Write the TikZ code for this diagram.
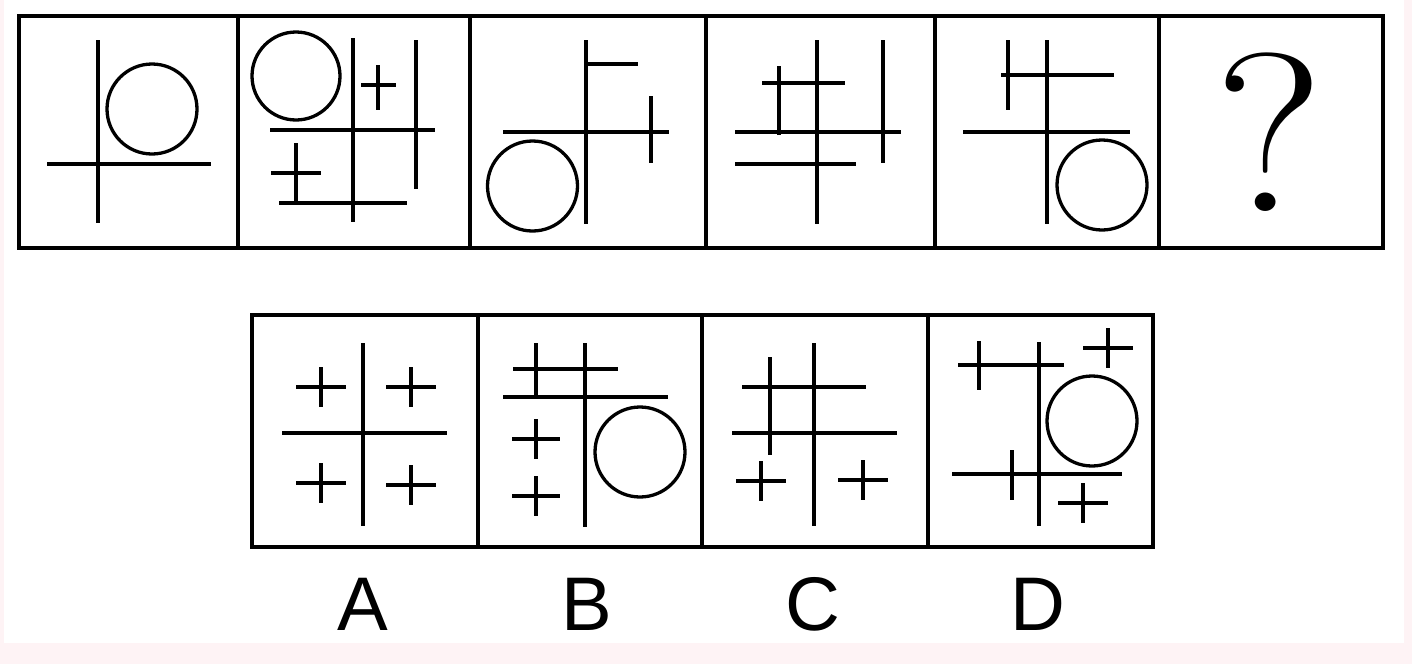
\documentclass[tikz,border=0pt]{standalone}
\usepackage{fontspec}
\newfontfamily\sansl{Liberation Sans}
\definecolor{bgpink}{HTML}{FEF3F5}
\begin{document}
\begin{tikzpicture}[x=1pt,y=-1pt,
  frame/.style={line width=3.6pt,line cap=rect},
  fig/.style={line width=3.6pt},
  ring/.style={line width=3.3pt},
  lbl/.style={font=\sansl\fontsize{76}{76}\selectfont,inner sep=0pt}]
\useasboundingbox (0,0) rectangle (1412,664);
\fill[bgpink] (0,0) rectangle (1412,664);
\fill[white] (4,0) rectangle (1404,643);
% top row frames
\draw[frame] (19,16) rectangle (1383,248);
\foreach \x in {238,470,706,935,1159} \draw[frame] (\x,16) -- (\x,248);
% panel 1
\draw[fig] (98,40) -- (98,223);
\draw[fig] (47,164) -- (211,164);
\draw[ring] (152,109) circle (45);
% panel 2
\draw[ring] (296,76) circle (44);
\draw[fig] (353,38) -- (353,222);
\draw[fig] (416,40) -- (416,189);
\draw[fig] (270,130) -- (435,130);
\draw[fig] (378,65) -- (378,110);
\draw[fig] (361,85) -- (396,85);
\draw[fig] (296,143) -- (296,203);
\draw[fig] (271,173) -- (321,173);
\draw[fig] (279,203) -- (407,203);
% panel 3
\draw[fig] (586,40) -- (586,224);
\draw[fig] (586,64) -- (638,64);
\draw[fig] (503,132) -- (669,132);
\draw[fig] (651,96) -- (651,163);
\draw[ring] (532.5,186) circle (45);
% panel 4
\draw[fig] (817,40) -- (817,224);
\draw[fig] (883,40) -- (883,163);
\draw[fig] (779,66) -- (779,135);
\draw[fig] (762,83) -- (845,83);
\draw[fig] (735,132) -- (901,132);
\draw[fig] (735,164) -- (856,164);
% panel 5
\draw[fig] (1008,40) -- (1008,110);
\draw[fig] (1047,40) -- (1047,224);
\draw[fig] (1001,75) -- (1114,75);
\draw[fig] (963,132) -- (1130,132);
\draw[ring] (1102,185) circle (45);
% panel 6
\node[font=\fontsize{226}{226}\selectfont,inner sep=0pt,xscale=1.12] (q) at (1269,132) {?};
% bottom row frames
\draw[frame] (252,315) rectangle (1153,547);
\foreach \x in {478,702,928} \draw[frame] (\x,315) -- (\x,547);
% panel A
\draw[fig] (363,343) -- (363,526);
\draw[fig] (282,433) -- (447,433);
\foreach \cx/\cy in {321/387,411/387,321/483,411/485}{
  \draw[fig] (\cx-25,\cy) -- (\cx+25,\cy);
  \draw[fig] (\cx,\cy-20) -- (\cx,\cy+20);}
% panel B
\draw[fig] (585,343) -- (585,527);
\draw[fig] (536,343) -- (536,397);
\draw[fig] (513,369) -- (618,369);
\draw[fig] (503,397) -- (668,397);
\foreach \cx/\cy in {536/439,536/496}{
  \draw[fig] (\cx-24,\cy) -- (\cx+24,\cy);
  \draw[fig] (\cx,\cy-20) -- (\cx,\cy+20);}
\draw[ring] (640,452) circle (45);
% panel C
\draw[fig] (814,343) -- (814,526);
\draw[fig] (770,357) -- (770,455);
\draw[fig] (742,387) -- (866,387);
\draw[fig] (732,433) -- (897,433);
\foreach \cx/\cy in {761/481,863/480}{
  \draw[fig] (\cx-25,\cy) -- (\cx+25,\cy);
  \draw[fig] (\cx,\cy-20) -- (\cx,\cy+20);}
% panel D
\draw[fig] (1039,342) -- (1039,526);
\draw[fig] (958,365) -- (1064,365);
\draw[fig] (979,341) -- (979,390);
\draw[fig] (952,474) -- (1122,474);
\draw[fig] (1012,450) -- (1012,500);
\foreach \cx/\cy in {1108/348,1083/503}{
  \draw[fig] (\cx-25,\cy) -- (\cx+25,\cy);
  \draw[fig] (\cx,\cy-20) -- (\cx,\cy+20);}
\draw[ring] (1092,421) circle (45);
% labels
\node[lbl] (la) at (363,604) {A};
\node[lbl] (lb) at (587,604) {B};
\node[lbl] (lc) at (813,604) {C};
\node[lbl] (ld) at (1038,604) {D};
\end{tikzpicture}
\end{document}
